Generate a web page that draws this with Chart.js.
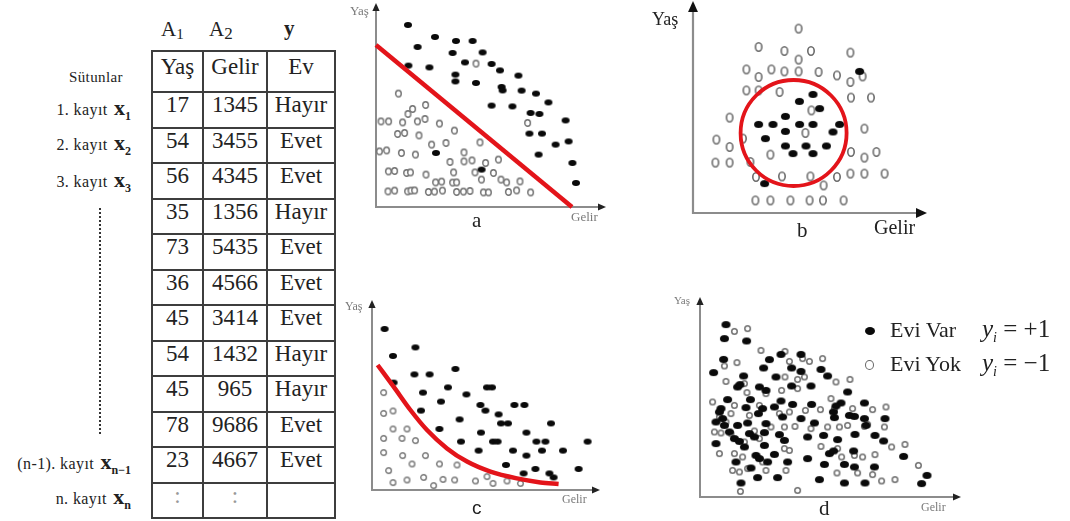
<!DOCTYPE html>
<html>
<head>
<meta charset="utf-8">
<script src="https://cdn.jsdelivr.net/npm/chart.js@4.4.1/dist/chart.umd.min.js"></script>
<style>
body { margin:0; background:#fff; font-family:"Liberation Serif", serif; color:#222; }
#page { position:relative; width:1070px; height:521px; overflow:hidden; }
.abs { position:absolute; white-space:nowrap; }
.lbl { position:absolute; right:939px; height:26px; line-height:26px; white-space:nowrap; font-size:16px; letter-spacing:0.4px; }
.lbl b { font-size:22px; letter-spacing:0; margin-left:2px; }
.lbl .sub { font-size:12px; font-weight:bold; position:relative; top:5px; letter-spacing:0; }
#tbl { position:absolute; left:151px; top:50px; border-collapse:collapse; font-size:23px; }
#tbl td { border:2px solid #3d3d3d; text-align:center; vertical-align:top; padding:1px 0 0 0; line-height:22px; height:32.5px; }
#tbl tr.head td { height:35px; padding-top:4px; }
.ax { color:#7a7a7a; }
.pan { position:absolute; }
</style>
</head>
<body>
<div id="page">
  <div class="abs" style="left:161px;top:17px;font-size:21px;">A<span style="font-size:15px;position:relative;top:3px;">1</span></div>
  <div class="abs" style="left:209px;top:17px;font-size:21px;">A<span style="font-size:17px;position:relative;top:3px;">2</span></div>
  <div class="abs" style="left:284px;top:16px;font-size:21px;font-weight:bold;">y</div>

  <div class="lbl" style="top:64px;right:947px;font-size:15px;">Sütunlar</div>
  <div class="lbl" style="top:95px;">1. kayıt <b>x</b><span class="sub">1</span></div>
  <div class="lbl" style="top:130px;">2. kayıt <b>x</b><span class="sub">2</span></div>
  <div class="lbl" style="top:167px;">3. kayıt <b>x</b><span class="sub">3</span></div>
  <div class="abs" style="left:99px;top:208px;height:226px;border-left:2px dotted #333;"></div>
  <div class="lbl" style="top:449px;">(n-1). kayıt <b>x</b><span class="sub">n−1</span></div>
  <div class="lbl" style="top:484px;">n. kayıt <b>x</b><span class="sub">n</span></div>

  <table id="tbl"></table>

  <div class="pan" style="left:340px;top:0px;width:280px;height:240px;"><canvas id="chartA" width="280" height="240"></canvas></div>
  <div class="pan" style="left:640px;top:0px;width:300px;height:250px;"><canvas id="chartB" width="300" height="250"></canvas></div>
  <div class="pan" style="left:340px;top:280px;width:280px;height:241px;"><canvas id="chartC" width="280" height="241"></canvas></div>
  <div class="pan" style="left:680px;top:280px;width:390px;height:241px;"><canvas id="chartD" width="390" height="241"></canvas></div>

  <!-- axis names and captions -->
  <div class="abs ax" style="left:350px;top:3px;font-size:13px;">Yaş</div>
  <div class="abs ax" style="left:571px;top:209px;font-size:13px;">Gelir</div>
  <div class="abs" style="left:472px;top:208px;font-size:21px;">a</div>

  <div class="abs" style="left:652px;top:9px;font-size:18px;">Yaş</div>
  <div class="abs" style="left:874px;top:216px;font-size:20px;">Gelir</div>
  <div class="abs" style="left:797px;top:218px;font-size:21px;">b</div>

  <div class="abs ax" style="left:345px;top:299px;font-size:12px;">Yaş</div>
  <div class="abs ax" style="left:562px;top:492px;font-size:12px;">Gelir</div>
  <div class="abs" style="left:472px;top:497px;font-size:19px;font-family:'Liberation Sans',sans-serif;">c</div>

  <div class="abs ax" style="left:674px;top:294px;font-size:11px;">Yaş</div>
  <div class="abs ax" style="left:921px;top:500px;font-size:12px;">Gelir</div>
  <div class="abs" style="left:819px;top:496px;font-size:21px;">d</div>

  <!-- legend of panel d -->
  <div class="abs" style="left:865px;top:327px;width:10px;height:8px;border-radius:50%;background:#0a0a0a;"></div>
  <div class="abs" style="left:890px;top:319px;font-size:22px;line-height:22px;">Evi Var</div>
  <div class="abs" style="left:982px;top:316px;font-size:25px;line-height:25px;"><i>y</i><span style="font-size:14px;position:relative;top:5px;"><i>i</i></span>&nbsp;=&nbsp;+1</div>
  <div class="abs" style="left:865px;top:360px;width:7px;height:8px;border-radius:50%;border:1.5px solid #666;background:#fff;"></div>
  <div class="abs" style="left:890px;top:353px;font-size:22px;line-height:22px;">Evi Yok</div>
  <div class="abs" style="left:982px;top:350px;font-size:25px;line-height:25px;"><i>y</i><span style="font-size:14px;position:relative;top:5px;"><i>i</i></span>&nbsp;=&nbsp;−1</div>
</div>

<script>
// ---- table values ----
const tableHead = ['Yaş', 'Gelir', 'Ev'];
const yasCol = ['17', '54', '56', '35', '73', '36', '45', '54', '45', '78', '23', ':'];
const gelirCol = ['1345', '3455', '4345', '1356', '5435', '4566', '3414', '1432', '965', '9686', '4667', ':'];
const evCol = ['Hayır', 'Evet', 'Evet', 'Hayır', 'Evet', 'Evet', 'Evet', 'Hayır', 'Hayır', 'Evet', 'Evet', ''];

// ---- panel a : linear boundary ----
const aEviVar = [[16,91],[29.5,85],[40,83],[48.3,83],[20.8,80],[38.3,77],[53.3,77.3],[44.5,72.3],[16.2,70.7],[26.7,69.8],
  [57.8,71.5],[62,68.3],[39.7,66.2],[39.7,62.8],[50,62],[71.2,65.7],[62.8,60],[63.3,58.3],[72.8,58.2],[80,56.7],
  [86.2,52.3],[57.8,50.7],[68.2,50.3],[77.3,47],[81.7,46.5],[94.8,43.3],[76.7,36.7],[83,36.7],[89.8,31.2],[96.3,32.8],
  [81.3,26.2],[98.2,22],[100,12],[30,27],[52.8,18.7]];
const aEviYok = [[50,71.7],[11.2,56.7],[24.8,51],[18.3,49],[16,46.5],[2.5,42.8],[6.3,42.8],[13.3,42.3],[20.7,42.8],[24.5,44],
  [31.7,41.7],[10.8,36.5],[14.3,37],[21.5,35.8],[39.2,38.2],[27.8,31.2],[35,32],[52,32.3],[75.8,42],[1.7,27.8],
  [5.3,28.3],[12.7,27],[19.7,26.2],[44,27.3],[37,22.5],[44,22.8],[48,23.3],[54.8,22],[61.2,23.7],[6.2,17.8],
  [9.3,18],[15.3,17],[17.2,17.3],[25,16.2],[38.8,17.3],[49.5,17.3],[58.7,17],[52.7,13.7],[62.5,13.7],[65.3,12.3],
  [72,12.8],[29.8,12.3],[32.8,12.7],[38.3,12.2],[40.3,12.3],[6,7.8],[9.3,8.2],[15.8,7.8],[17.5,8.2],[19.3,8.3],
  [26.2,7.5],[29.2,7.7],[33.2,8.2],[40.3,7.5],[43.7,7.7],[47,8],[53.7,7.3],[56.2,7.3],[66.2,7.5],[70.3,8.3],[77.3,7.3]];
const aLine = [[0,81],[98,0]];

// ---- panel b : circular boundary ----
const bEviVar = [[83.3,70.8],[60,59.3],[53.2,55.8],[63.3,52.2],[46.2,48.3],[32.8,44.3],[40,44.3],[53.3,44.3],[60,44.3],
  [73.3,44.3],[70,40.5],[46.2,40.8],[36.2,37.2],[46.2,33.5],[50,29.7],[56.5,33.5],[60,29.7],[66.7,33.5],[35.8,14.7]];
const bEviYok = [[52.8,92.2],[32.8,83],[45.7,81],[59,81],[78.7,80.2],[52.8,76.7],[26.7,71.8],[32.8,68],[39.2,71.8],
  [45.7,70.8],[52.8,70.8],[62.8,70.5],[72,68.8],[78.7,65.5],[84.8,68.3],[26.7,61.3],[32.8,61.3],[43.3,60.5],[79,57.7],
  [89,57.7],[59.2,51.3],[18.3,47.7],[85.7,42.2],[56.2,40],[11.7,36.7],[18.3,33],[25,37.2],[79,30.5],[91.7,30.5],
  [85.7,27.7],[11.2,25.2],[18.3,25.2],[38.7,29.2],[28.7,25.5],[31.5,18],[44.5,18.3],[58.7,18.3],[65.3,13.8],[72,18],
  [78.7,19.7],[85.7,19.7],[95.8,19.7],[31.2,6.3],[38.7,6.3],[48.7,6.3],[58.3,6.3],[65,6.3],[75.3,6.3]];
const bCircle = [50.3, 40, 53];   // centre x, centre y, radius

// ---- panel c : curved boundary ----
const cEviVar = [[6.3,80.5],[21.7,71.3],[10.5,67],[21.2,57.8],[28.8,57.8],[41.7,60.5],[10.8,53.7],[38,51.3],[25.5,48.7],
  [47.2,47.8],[57.5,51.3],[60,51.3],[34.5,44.2],[54.2,42.5],[56.7,39.7],[71.2,42.5],[76.2,42.5],[63.3,37.8],[24.5,39.7],
  [64.5,33.3],[68,33.3],[89.5,33.3],[33.7,30.5],[43.8,35.3],[54.5,28.7],[60.5,24.2],[62.8,24.2],[77.2,28.7],[82.2,24.2],
  [86.7,24.2],[107.8,24.2],[44.5,24.2],[53.3,19.7],[70.5,19.7],[77.2,17.2],[85,19.7],[95.5,19.7],[67,12.5],[81.7,10.5],
  [103.3,10.5],[75.8,8.3],[88.7,8.3],[90.8,6.3]];
const cEviYok = [[5.8,48.7],[5.8,38.3],[10.5,39.5],[10.5,30.5],[17.5,30.5],[5.8,25.8],[15,25.8],[21.7,24.7],[5.8,18.7],
  [15.3,17.2],[26.7,17.2],[20,13],[33.7,13],[42.5,12.5],[8.3,9.7],[10.5,3.7],[17.5,5],[25.8,6.3],[30.8,2.2],[35.5,5.3],
  [41.3,5],[51.7,4.5],[57.5,6.7],[60.5,3.3],[67.5,4.5],[74.2,3.3]];
const cCurve = [[2.8,62.5],[10.8,51.7],[19.2,40],[27.5,30],[37.5,20.8],[47.5,14.2],[59.2,9.2],[72.5,5.8],[84.2,3.8],[93.3,3]];

// ---- panel d : mixed classes ----
const dEviVar = [[13,86.2],[12.2,79.2],[23.3,78],[11.8,68.8],[6.8,62.2],[21.8,60.5],[34.7,68.7],[31.8,64.5],[40.5,71.3],
  [50.5,71.3],[45.8,64.5],[50.5,62.8],[38,60],[18.8,55],[29.7,55],[33,53.3],[45.8,55.5],[55.5,55.5],[60.5,63.8],
  [63.8,60.5],[73.8,52.5],[13.8,48.7],[25.2,48.7],[40.5,48],[46.3,46.3],[10.5,44.2],[23,44.7],[31.3,44.2],[37.2,45],
  [55.8,46.3],[70.5,47],[82.2,47],[68,45.5],[8,37.5],[18.8,35.8],[23.8,37],[33,36.7],[41.3,40],[67.2,39.7],[77.2,40.3],
  [82.2,39.2],[92.5,39.2],[57.2,37],[50.5,39.2],[14.7,32.5],[32.2,32.2],[39.7,31.2],[53.8,30],[61.8,30.8],[68.8,28.7],
  [77.5,31.3],[87.5,30.8],[91.8,28],[8,26.7],[17.2,29.2],[22.2,25],[27.2,30],[32.2,25.8],[42.2,28.3],[28,20.8],
  [37.2,21.3],[64.7,21.7],[66.8,23],[76.8,23],[101.8,20.3],[18,17.5],[33.8,17.5],[43.8,17.5],[53.8,19.2],[62.2,16.3],
  [72.2,16.3],[77.2,15],[87.2,15],[20.5,7],[28.8,9.7],[38.8,9.7],[59.7,8.7],[72.2,7],[82.5,7],[113.5,10.8],[110.8,6.7],
  [20,56.2],[9.7,42.5],[29.2,41.7],[66.7,42.5],[74.7,40.8],[83,35.8],[19.7,27.8],[24.7,31.7],[11.3,39.2],[29.7,19.2],
  [25.5,14.5],[12.2,35.8]];
const dEviYok = [[17.2,82.8],[23.8,84.2],[30.5,73.3],[42.5,72.8],[44.7,67.8],[51.3,69.2],[54.7,67.8],[61.3,69.2],[12.2,65.5],
  [18.5,67.2],[13,57.8],[42.5,60],[48.8,58.8],[52.2,60],[68,57.5],[75,58.8],[22.2,56.7],[23.5,52.2],[40.8,53.3],[33,51.7],
  [48.8,54.2],[6.3,47.5],[17.2,45.8],[29.7,45.8],[65.5,49.2],[60.2,43.7],[67.2,44.2],[76.3,44.2],[86.3,43.7],[93,45],
  [9.7,40],[24.7,40.8],[39.7,41.7],[44.7,42.5],[52.7,43.3],[55.5,34.2],[63.8,35],[69.7,35],[73.8,35.8],[82.2,35.3],
  [83.8,36.3],[92.2,35],[42.2,35],[47.5,35.3],[7.2,32.5],[10.5,32],[15.5,31.7],[27.2,33],[35.5,35],[60.5,25.3],
  [68.8,24.2],[95.8,25],[102.5,26.3],[42.2,24.2],[44.7,23.3],[81.3,20],[87.5,21.2],[70.8,20],[77.2,20.8],[9.7,21.7],
  [17.2,21.7],[21.3,20],[22.2,27.5],[29.7,29.2],[68.5,12],[78.8,12],[86.3,11.2],[90.8,8],[97.5,8.7],[109.2,15.8],
  [19.7,12.5],[23.8,14.2],[16.3,13.3],[33,13.3],[43,13.3],[48.8,3.3],[20.2,2.8],[31.3,17.5],[13,37.5],[15.5,41.7]];

// ---- build the table ----
const tbl = document.getElementById('tbl');
const colW = [49, 62, 66];
let html = '<tr class="head">' + tableHead.map((h, i) => '<td style="width:' + colW[i] + 'px">' + h + '</td>').join('') + '</tr>';
for (let i = 0; i < yasCol.length; i++) {
    const dim = yasCol[i] === ':' ? ' style="color:#999"' : '';
    html += '<tr><td' + dim + '>' + yasCol[i] + '</td><td' + dim + '>' + gelirCol[i] + '</td><td>' + evCol[i] + '</td></tr>';
}
tbl.innerHTML = html;

// ---- marker images ----
function dotImage(w, h, fill, stroke, lw) {
    lw = lw || 0;
    const c = document.createElement('canvas');
    c.width = w + 2;
    c.height = h + 2;
    const g = c.getContext('2d');
    g.beginPath();
    g.ellipse(c.width / 2, c.height / 2, w / 2 - lw / 2, h / 2 - lw / 2, 0, 0, Math.PI * 2);
    g.fillStyle = fill;
    g.fill();
    if (stroke) {
        g.lineWidth = lw;
        g.strokeStyle = stroke;
        g.stroke();
    }
    return c;
}

const toXY = arr => arr.map(p => ({ x: p[0], y: p[1] }));
const RED = '#e3141a';

// axes with arrow heads drawn from the scales
const axisArrows = {
    id: 'axisArrows',
    beforeDatasetsDraw(chart, args, opts) {
        const ctx = chart.ctx;
        const xs = chart.scales.x, ys = chart.scales.y;
        const x0 = xs.getPixelForValue(0), y0 = ys.getPixelForValue(0);
        const x1 = xs.getPixelForValue(xs.max), y1 = ys.getPixelForValue(ys.max);
        const hl = opts.head, hw = opts.head * 0.45;
        ctx.save();
        ctx.strokeStyle = opts.color;
        ctx.lineWidth = opts.width;
        ctx.beginPath();
        ctx.moveTo(x0, y1 + hl - 1);
        ctx.lineTo(x0, y0);
        ctx.lineTo(x1 - hl + 1, y0);
        ctx.stroke();
        ctx.fillStyle = opts.arrow;
        ctx.beginPath();
        ctx.moveTo(x0, y1);
        ctx.lineTo(x0 - hw, y1 + hl);
        ctx.lineTo(x0 + hw, y1 + hl);
        ctx.closePath();
        ctx.fill();
        ctx.beginPath();
        ctx.moveTo(x1, y0);
        ctx.lineTo(x1 - hl, y0 - hw);
        ctx.lineTo(x1 - hl, y0 + hw);
        ctx.closePath();
        ctx.fill();
        ctx.restore();
    }
};

function makePanel(id, pad, xMax, yMax, axisOpts, datasets) {
    return new Chart(document.getElementById(id), {
        type: 'scatter',
        data: { datasets: datasets },
        options: {
            responsive: false,
            animation: false,
            events: [],
            devicePixelRatio: 1,
            layout: { padding: pad, autoPadding: false },
            scales: {
                x: { display: false, min: 0, max: xMax },
                y: { display: false, min: 0, max: yMax }
            },
            plugins: {
                legend: { display: false },
                tooltip: { enabled: false },
                axisArrows: axisOpts
            }
        },
        plugins: [axisArrows]
    });
}

// panel a
makePanel('chartA', { left: 36, right: 14, top: 3, bottom: 33 }, 115, 102,
    { color: '#8c8c8c', width: 2, arrow: '#222', head: 8 }, [
    { data: toXY(aLine), showLine: true, borderColor: RED, borderWidth: 4.5, pointRadius: 0, clip: false },
    { data: toXY(aEviVar), pointStyle: dotImage(8, 6, '#0a0a0a'), pointRadius: 4, clip: false },
    { data: toXY(aEviYok), pointStyle: dotImage(7, 8, '#fff', '#727272', 1.4), pointRadius: 4, clip: false }
]);

// panel b
makePanel('chartB', { left: 53, right: 13, top: 1, bottom: 37 }, 117, 106,
    { color: '#8c8c8c', width: 2.2, arrow: '#111', head: 11 }, [
    { type: 'bubble', data: [{ x: bCircle[0], y: bCircle[1], r: bCircle[2] }], borderColor: RED, borderWidth: 3.8,
      backgroundColor: 'rgba(0,0,0,0)', clip: false },
    { data: toXY(bEviVar), pointStyle: dotImage(9, 7, '#0a0a0a'), pointRadius: 4, clip: false },
    { data: toXY(bEviYok), pointStyle: dotImage(8, 10, '#fff', '#6a6a6a', 1.6), pointRadius: 4, clip: false }
]);

// panel c
makePanel('chartC', { left: 32, right: 20, top: 20, bottom: 31 }, 114, 95,
    { color: '#8c8c8c', width: 2, arrow: '#222', head: 8 }, [
    { data: toXY(cCurve), showLine: true, tension: 0.4, cubicInterpolationMode: 'monotone', borderColor: RED,
      borderWidth: 4.5, pointRadius: 0, clip: false },
    { data: toXY(cEviVar), pointStyle: dotImage(8, 6, '#0a0a0a'), pointRadius: 4, clip: false },
    { data: toXY(cEviYok), pointStyle: dotImage(7, 7, '#fff', '#7a7a7a', 1.4), pointRadius: 4, clip: false }
]);

// panel d
makePanel('chartD', { left: 20, right: 109, top: 17, bottom: 24 }, 130.5, 100,
    { color: '#8c8c8c', width: 2, arrow: '#222', head: 8 }, [
    { data: toXY(dEviVar), pointStyle: dotImage(9, 7, '#0a0a0a'), pointRadius: 4, clip: false },
    { data: toXY(dEviYok), pointStyle: dotImage(7, 7, '#fff', '#6f6f6f', 1.5), pointRadius: 4, clip: false }
]);
</script>
</body>
</html>
